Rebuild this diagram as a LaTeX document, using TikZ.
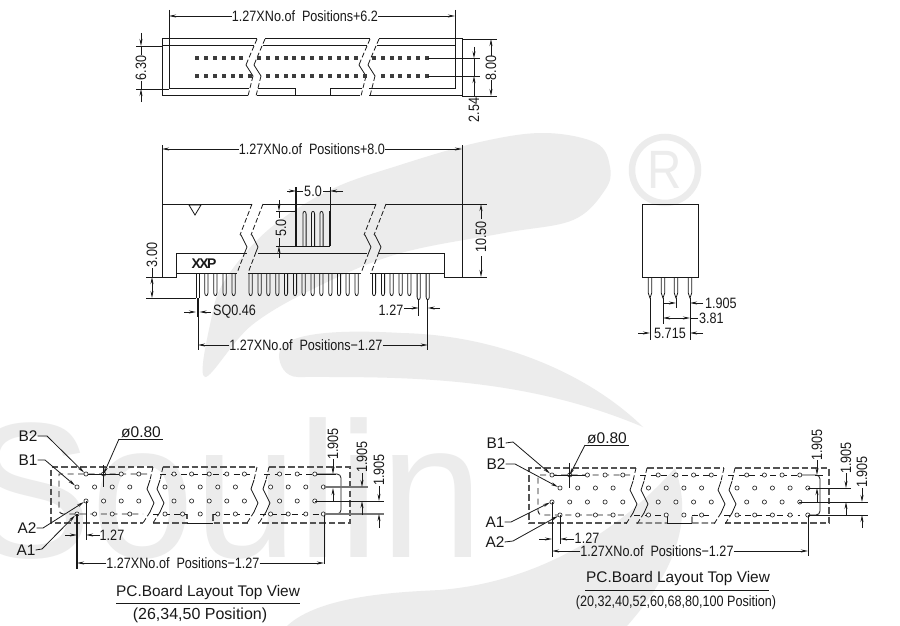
\documentclass[tikz,border=0pt]{standalone}
\usepackage{fontspec}
\setmainfont{Liberation Sans}
\newfontfamily\dimf[FakeStretch=0.84]{Liberation Sans}
\newfontfamily\regf[FakeStretch=0.88]{Liberation Sans}
\newfontfamily\wmf[FakeStretch=0.96]{Liberation Sans}
\usetikzlibrary{arrows.meta}
\definecolor{wm}{gray}{0.925}
\definecolor{ink}{gray}{0.1}
\tikzset{
  >={Stealth[length=7pt,width=3pt]},
  part/.style={draw=ink,line width=1pt,line join=miter},
  dim/.style={draw=ink,line width=0.8pt},
  brk/.style={draw=ink,line width=0.8pt,dash pattern=on 5pt off 2.5pt},
  pcb/.style={draw=ink!75,line width=1.1pt,dash pattern=on 6.5pt off 3pt},
  row/.style={draw=ink,line width=0.9pt,dash pattern=on 6pt off 4.5pt},
  hole/.style={draw=ink,line width=0.6pt,fill=white},
  pinpad/.style={fill=ink!85,draw=none},
  dimtext/.style={text=ink,font=\dimf\fontsize{15}{15}\selectfont,inner sep=0pt},
  vdimtext/.style={dimtext,rotate=90},
  labeltext/.style={text=ink,font=\fontsize{15.4}{15.4}\selectfont,inner sep=0pt},
}
\newcommand\TopBrk[1]{%
  \draw[brk] (#1,39)--(#1-9,60);
  \draw[dim] (#1-9,60)--(#1-11,65)--(#1-4,76);
  \draw[brk] (#1-4,76)--(#1-9,96);}
\newcommand\MidBrk[1]{%
  \draw[brk] (#1,204)--(#1-12,235);
  \draw[dim] (#1-12,235)--(#1-11,235)--(#1-5,247)--(#1-7,252);
  \draw[brk] (#1-7,252)--(#1-15,273);}
\newcommand\PcbBrk[2]{% top x, top y
  \draw[brk] (#1,#2)--(#1-3,#2+13);
  \draw[dim] (#1-3,#2+13)--(#1-6,#2+22)--(#1+1,#2+36)--(#1-3,#2+45);
  \draw[brk] (#1-3,#2+45)--(#1-10,#2+56);}
\newcommand\Pin[2]{% centre x, tip y
  \draw[dim] (#1-1.6,273)--(#1-1.6,#2-3) .. controls (#1-1.6,#2+0.5) and (#1+1.6,#2+0.5) .. (#1+1.6,#2-3)--(#1+1.6,273);}
\begin{document}
\begin{tikzpicture}[x=1pt,y=-1pt]
\useasboundingbox (0,0) rectangle (900,626);
\fill[white] (0,0) rectangle (900,626);
% ---------- watermark
\fill[wm] plot[smooth cycle,tension=0.6] coordinates {(205,377)(211,320)(225,280)(268,230)(330,190)(400,165)(480,142)(544,133)(596,143)(610,167)(605,190)(573,220)(504,233)(401,253)(321,285)(252,325)};
\fill[wm] (643,427) .. controls (590,375) and (500,335) .. (401,333)
  .. controls (350,330) and (279,330) .. (279,355)
  .. controls (279,365) and (285,377) .. (298,377)
  .. controls (400,377) and (520,375) .. (643,427) -- cycle;
\fill[wm] (675,468) .. controls (690,510) and (685,560) .. (627,626) -- (287,626)
  .. controls (320,595) and (400,592) .. (440,590)
  .. controls (540,582) and (620,530) .. (675,468) -- cycle;
\node[anchor=base west,inner sep=0pt,text=wm,font=\wmf\fontsize{193}{193}\selectfont] (wmname) at (-32,557) {Soulin};
\draw[wm,line width=6.5pt] (665,170) circle (33);
\node[text=wm,inner sep=0pt,font=\regf\fontsize{54}{54}\selectfont] (wmreg) at (665,170) {R};
% ---------- top view
\draw[part] (257,39)--(162,39)--(162,96)--(248,96);
\draw[part] (265,39)--(370,39);
\draw[part] (379,39)--(462,39)--(462,96)--(369,96);
\draw[part] (257,96)--(360,96);
\draw[part] (162,46)--(254,46) (263,46)--(367,46) (377,46)--(455,46)--(455,89)--(369,89);
\draw[part] (169,89)--(249,89) (258,89)--(295,89)--(295,96) (330,96)--(330,89)--(362,89);
\draw[dim] (162,89)--(169,89);
\TopBrk{257}\TopBrk{265}\TopBrk{370}\TopBrk{379}
\foreach \k in {0,...,26}{
  \ifnum\k=6 \else\ifnum\k=19 \else
    \fill[pinpad] ({197.3+8.83*\k-2},56.3) rectangle +(4,4);
  \fi\fi
  \ifnum\k=7 \else\ifnum\k=20 \else
    \fill[pinpad] ({197.3+8.83*\k-2},74) rectangle +(4,4);
  \fi\fi
}
\coordinate (pa) at (169,16); \coordinate (pb) at (455,16);
\node[dimtext] (d62) at (305,16) {1.27XNo.of\ \ Positions+6.2};
\draw[dim,->] (d62.west)--(pa);
\draw[dim,->] (d62.east)--(pb);
\draw[dim] (169,10)--(169,89) (455,10)--(455,46);
% 6.30
\node[vdimtext] (d630) at (141,68) {6.30};
\draw[dim] (136,46)--(162,46) (136,89)--(162,89);
\draw[dim,->] (141,33)--(141,46); \draw[dim] (141,46)--(141,55);
\draw[dim,->] (141,102)--(141,89); \draw[dim] (141,89)--(141,81);
% 8.00
\node[vdimtext] (d800) at (491,68) {8.00};
\draw[dim] (462,39)--(497,39) (462,96)--(497,96);
\draw[dim,->] (491,56)--(491,39);
\draw[dim,->] (491,80)--(491,96);
% 2.54
\node[vdimtext] (d254) at (474,110) {2.54};
\draw[dim] (428,58.3)--(480,58.3) (428,76)--(480,76);
\draw[dim,->] (474,47)--(474,58.3);
\draw[dim,->] (474,97)--(474,76);
\draw[dim] (474,58.3)--(474,76);
% ---------- front view
\draw[dim] (162,145)--(162,277) (462,145)--(462,277);
\draw[part] (162,204)--(252,204) (263,204)--(376,204) (386,204)--(487,204);
\draw[part] (146,277)--(176,277)--(176,253)--(247,253) (258,253)--(367,253) (378,253)--(444,253)--(444,277)--(487,277);
\draw[part] (176,273)--(237,273) (248,273)--(361,273) (370,273)--(444,273);
\MidBrk{252}\MidBrk{263}\MidBrk{376}\MidBrk{386}
\draw[dim] (189,205)--(201,205)--(195,215)--cycle;
\node[text=ink,inner sep=0pt,font=\bfseries\fontsize{14}{14}\selectfont] (xxp) at (204,264) {X\kern-1.6ptX\kern-1.6ptP};
\foreach \z in {229,256,284,311,362,389,415,442,468,495,521,548,574,601,627,653,680,732,759,785,812,838}{
  \pgfmathsetmacro\px{\z/3+130}\Pin{\px}{296}}
\Pin{418.7}{300}\Pin{427.7}{300}
\draw[dim] (196,273)--(196,298); \draw[dim] (199.5,273)--(199.5,298);
\draw[ink,line width=2pt] (198,298)--(198,317);
\draw[dim] (198,317)--(198,350);
\draw[dim] (418.7,300)--(418.7,316);
\draw[dim] (427.7,300)--(427.7,350);
% upper comb pins
\draw[ink,line width=1.4pt] (296,187)--(296,246);
\draw[ink,line width=1.1pt] (330,211)--(330,246);
\draw[dim] (330,187)--(330,211);
\foreach \c in {304.5,313,321.5}{
  \draw[dim] (\c-1.6,246)--(\c-1.6,214) .. controls (\c-1.6,210.5) and (\c+1.6,210.5) .. (\c+1.6,214)--(\c+1.6,246);}
\draw[ink,line width=1pt] (276,246)--(330,246);
\draw[dim] (276,211)--(296,211);
\node[dimtext] (d5h) at (313,191) {5.0};
\draw[dim,->] (287,191)--(296,191); \draw[dim] (296,191)--(303,191);
\draw[dim,->] (343,191)--(330,191); \draw[dim] (330,191)--(323,191);
\node[vdimtext] (d5v) at (281,228) {5.0};
\draw[dim,->] (279,200)--(279,211); \draw[dim] (279,211)--(279,218);
\draw[dim,->] (279,258)--(279,246); \draw[dim] (279,246)--(279,238);
% front dims
\node[dimtext] (d80) at (312,149) {1.27XNo.of\ \ Positions+8.0};
\coordinate (fa) at (162,149); \coordinate (fb) at (462,149);
\draw[dim,->] (d80.west)--(fa); \draw[dim,->] (d80.east)--(fb);
\node[vdimtext] (d1050) at (481,237) {10.50};
\draw[dim,->] (481,219)--(481,204); \draw[dim,->] (481,256)--(481,277);
\node[vdimtext] (d300) at (152,255) {3.00};
\draw[dim] (146,298)--(196,298);
\draw[dim,<->] (152,277)--(152,298);
\draw[dim] (152,268)--(152,277);
\node[dimtext,anchor=west] (dsq) at (213,312) {SQ0.46};
\draw[dim,->] (184,312)--(196,312);
\draw[dim,->] (211,312)--(199.5,312);
\node[dimtext] (d127f) at (391,310) {1.27};
\draw[dim,->] (404,308)--(418.7,308);
\draw[dim,->] (440,308)--(427.7,308);
\node[dimtext] (dnf) at (306,345) {1.27XNo.of\ \ Positions−1.27};
\coordinate (fc) at (198,345); \coordinate (fd) at (427.7,345);
\draw[dim,->] (dnf.west)--(fc); \draw[dim,->] (dnf.east)--(fd);
% ---------- side view
\draw[part] (642,204) rectangle (698,277);
\foreach \c/\b in {650/298,663/298,676/298,690/298}{
  \draw[dim] (\c-1.7,277)--(\c-1.7,293)--(\c,298)--(\c+1.7,293)--(\c+1.7,277);}
\draw[dim] (650,298)--(650,340) (663,298)--(663,324) (676,298)--(676,308) (690,298)--(690,340);
\node[dimtext,anchor=west] (s1) at (705,303) {1.905};
\draw[dim,->] (663,303)--(676,303);
\draw[dim,->] (703,303)--(690,303);
\node[dimtext,anchor=west] (s2) at (699,318) {3.81};
\draw[dim,<->] (663,318)--(690,318);
\draw[dim] (690,318)--(698,318);
\node[dimtext] (s3) at (670,333) {5.715};
\draw[dim,->] (638,333)--(650,333);
\draw[dim,->] (703,333)--(690,333);
% ---------- left PCB layout
\draw[pcb] (153,467)--(51,467)--(51,523)--(143,523);
\draw[pcb] (163,467)--(257,467);
\draw[pcb] (269,467)--(350,467)--(350,523)--(258,523);
\draw[pcb] (153,523)--(187,523)--(187,514) (213,514)--(213,523)--(248,523);
\draw[dim] (187,523)--(213,523);
\PcbBrk{153}{467}\PcbBrk{163}{467}\PcbBrk{257}{467}\PcbBrk{269}{467}
\draw[row] (147,474)--(59,474)[rounded corners=4pt]--(59,514)--(143,514);
\draw[row] (160,474)--(252,474) (264,474)--(322,474);
\draw[row] (153,514)--(187,514) (213,514)--(250,514) (260,514)--(322,514);
\draw[dim,rounded corners=4pt] (315,474)--(341,474)--(341,514)--(324,514);
\foreach \k in {0,1,2,3,5,6,7,8,9,11,12,13}{
  \draw[hole] ({86+17.6*\k},474) circle (2.1);
  \draw[hole] ({86+17.6*\k},501) circle (2.1);}
\foreach \k in {0,1,2,3,5,6,7,8,9,11,12,13,14}{
  \draw[hole] ({77+17.6*\k},487) circle (2.1);
  \draw[hole] ({77+17.6*\k},514) circle (2.1);}
\node[labeltext] (lb2) at (28,436) {B2};
\node[labeltext] (lb1) at (28,460) {B1};
\node[labeltext] (la2) at (27,528) {A2};
\node[labeltext] (la1) at (26,550) {A1};
\coordinate (hb2) at (84,472.5); \coordinate (hb1) at (75,485.5);
\coordinate (ha2) at (84,502); \coordinate (ha1) at (75,515.5);
\draw[dim,->] (lb2.east)--(47,436)--(hb2);
\draw[dim,->] (lb1.east)--(45,460)--(hb1);
\draw[dim,->] (la2.east)--(43,528)--(ha2);
\draw[dim,->] (la1.east)--(42,549)--(ha1);
\node[labeltext,font=\fontsize{15.5}{15.5}\selectfont] (lphi) at (141,432) {ø0.80};
\draw[dim] (119,439)--(163,439);
\coordinate (hphi) at (103.6,474);
\draw[dim,->] (119,439)--(hphi);
\draw[dim] (103.6,465)--(103.6,487);
\draw[dim,line width=1pt] (88,474)--(119,474);
\draw[ink,line width=1.3pt] (77,514)--(77,569);
\draw[dim] (86,501)--(86,540);
\node[dimtext] (ls) at (112,535) {1.27};
\draw[dim,->] (65,535)--(77,535);
\draw[dim,->] (100,535)--(86,535);
\draw[dim] (324,514)--(324,564);
\node[dimtext] (ln) at (183,563) {1.27XNo.of\ \ Positions−1.27};
\coordinate (lna) at (77,563); \coordinate (lnb) at (324,563);
\draw[dim,->] (ln.west)--(lna); \draw[dim,->] (ln.east)--(lnb);
\draw[dim] (321,474)--(336,474);
\draw[ink!60,line width=1.1pt] (324,487)--(368,487) (324,514)--(384,514);
\draw[dim,line width=0.9pt] (315,501)--(384,501);
\node[vdimtext] (lr1) at (333,444) {1.905};
\draw[dim,->] (333,459)--(333,474);
\draw[dim,->] (333,501)--(333,488);
\node[vdimtext] (lr2) at (362,457) {1.905};
\draw[dim,->] (362,473)--(362,487);
\draw[dim,->] (362,515)--(362,501);
\node[vdimtext] (lr3) at (379,470) {1.905};
\draw[dim,->] (379,486)--(379,501);
\draw[dim,->] (379,528)--(379,514);
\node[labeltext] (lt1) at (208,593) {PC.Board Layout Top View};
\draw[dim] (116,603)--(300,603);
\node[labeltext,font=\fontsize{16}{16}\selectfont] (lt2) at (200,615) {(26,34,50 Position)};
% ---------- right PCB layout
\draw[pcb] (636,468)--(529,468)--(529,523)--(627,523);
\draw[pcb] (647,468)--(724,468);
\draw[pcb] (735,468)--(829,468)--(829,523)--(725,523);
\draw[pcb] (636,523)--(667,523) (692,523)--(692,517)--(695,515) (692,523)--(715,523);
\draw[dim] (667,523)--(692,523) (667,515)--(667,523);
\PcbBrk{636}{468}\PcbBrk{647}{468}\PcbBrk{724}{468}\PcbBrk{735}{468}
\draw[row] (630,475)--(538,475)[rounded corners=4pt]--(538,515)--(624,515);
\draw[row] (640,475)--(717,475) (728,475)--(800,475);
\draw[row] (634,515)--(667,515) (692,515)--(713,515) (724,515)--(800,515);
\draw[dim,rounded corners=4pt] (799,475)--(820,475)--(820,515)--(808,515);
\draw[dim] (815,475)--(823,475);
\foreach \k in {0,1,2,3,4,6,7,8,9,11,12,13,14}{
  \draw[hole] ({552+17.7*\k},475) circle (2.1);
  \draw[hole] ({552+17.7*\k},502) circle (2.1);}
\foreach \k in {0,1,2,3,5,6,7,8,10,11,12,13,14}{
  \draw[hole] ({560+17.7*\k},488) circle (2.1);
  \draw[hole] ({560+17.7*\k},515) circle (2.1);}
\node[labeltext] (rb1) at (496,443) {B1};
\node[labeltext] (rb2) at (496,464) {B2};
\node[labeltext] (ra1) at (495,522) {A1};
\node[labeltext] (ra2) at (495,542) {A2};
\coordinate (qb1) at (550,473.5); \coordinate (qb2) at (558,487);
\coordinate (qa1) at (550,502.5); \coordinate (qa2) at (558,516);
\draw[dim,->] (rb1.east)--(513,442)--(qb1);
\draw[dim,->] (rb2.east)--(515,464)--(qb2);
\draw[dim,->] (ra1.east)--(511,522)--(qa1);
\draw[dim,->] (ra2.east)--(513,541)--(qa2);
\node[labeltext,font=\fontsize{15.5}{15.5}\selectfont] (rphi) at (607,438) {ø0.80};
\draw[dim] (585,445)--(629,445);
\coordinate (qphi) at (569.7,475);
\draw[dim,->] (585,445)--(qphi);
\draw[dim] (569,463)--(569,488);
\draw[dim,line width=1pt] (554,475)--(585,475);
\draw[dim] (552,502)--(552,557);
\draw[dim] (560,515)--(560,544);
\node[dimtext] (rs) at (587,538) {1.27};
\draw[dim,->] (539,539)--(552,539);
\draw[dim,->] (574,539)--(560,539);
\node[dimtext] (rn) at (657,551) {1.27XNo.of\ \ Positions−1.27};
\coordinate (rna) at (552,551); \coordinate (rnb) at (808,551);
\draw[dim,->] (rn.west)--(rna); \draw[dim,->] (rn.east)--(rnb);
\draw[dim] (808,515)--(808,556);
\draw[dim] (808,488)--(851,488) (799,502)--(868,502) (808,515)--(868,515);
\node[vdimtext] (rr1) at (817,445) {1.905};
\draw[dim,->] (817,460)--(817,475);
\draw[dim,->] (817,502)--(817,488);
\node[vdimtext] (rr2) at (846,458) {1.905};
\draw[dim,->] (846,473)--(846,488);
\draw[dim,->] (846,515)--(846,502);
\node[vdimtext] (rr3) at (862,472) {1.905};
\draw[dim,->] (862,488)--(862,502);
\draw[dim,->] (862,528)--(862,515);
\node[labeltext] (rt1) at (678,579) {PC.Board Layout Top View};
\draw[dim] (585,590)--(769,590);
\node[dimtext] (rt2) at (676,603) {(20,32,40,52,60,68,80,100 Position)};
\end{tikzpicture}
\end{document}
